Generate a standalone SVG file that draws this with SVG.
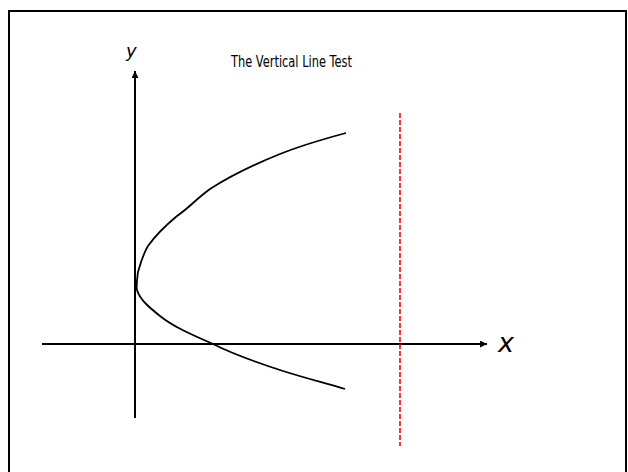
<svg xmlns="http://www.w3.org/2000/svg" width="628" height="472" viewBox="0 0 628 472">
<style>
.ax{stroke:#000;stroke-width:2;fill:none}
.lbl{font-family:"Comic Sans MS","DejaVu Sans","Liberation Sans",sans-serif;fill:#000}
</style>
<defs>
<marker id="ah" viewBox="0 0 10 10" refX="10" refY="5" markerWidth="4" markerHeight="3.5" markerUnits="strokeWidth" orient="auto">
<path d="M0,0 L10,5 L0,10 Z" fill="#000"/>
</marker>
</defs>
<rect width="628" height="472" fill="#fff"/>
<rect id="frame" x="9" y="11" width="617" height="470" fill="none" stroke="#000" stroke-width="2"/>
<g id="connectors">
<line id="x-axis" class="ax" x1="42" y1="344" x2="487" y2="344" marker-end="url(#ah)"/>
<line id="y-axis" class="ax" x1="135" y1="418" x2="135" y2="71" marker-end="url(#ah)"/>
</g>
<g id="curve">
<path d="M346,133 C320,140 300,146 280,154 C255,164 230,176 210,189 C195,200 190,207 177,216 C165,226 155,236 148,246 C143,254 141,262 138,272 C137,280 136,286 137,290 C140,300 150,308 160,316 C175,328 195,336 213,344 C235,355 255,362 283,371 C305,378 325,383 345,389" fill="none" stroke="#000" stroke-width="1.8"/>
</g>
<g id="vertical-test-line">
<line x1="400" y1="113" x2="400" y2="446" stroke="#ff0000" stroke-width="1.6" stroke-dasharray="5,2"/>
</g>
<g id="title">
<text class="lbl" x="231" y="67" font-size="16" textLength="121" lengthAdjust="spacingAndGlyphs">The Vertical Line Test</text>
</g>
<g id="y-label">
<text class="lbl" x="126" y="57" font-size="18" font-style="italic">y</text>
</g>
<g id="x-label">
<text class="lbl" x="498" y="352" font-size="27" font-style="italic">x</text>
</g>
</svg>
